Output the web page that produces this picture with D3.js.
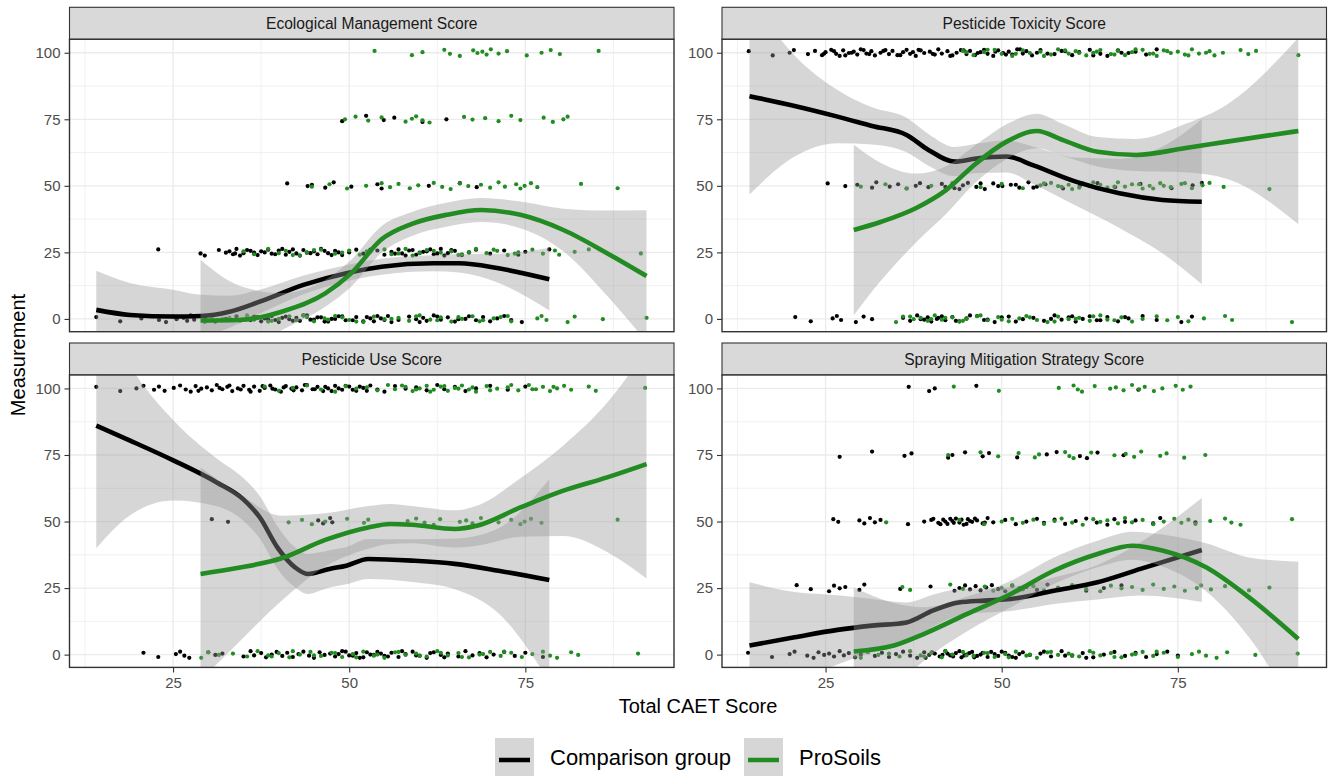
<!DOCTYPE html>
<html><head><meta charset="utf-8">
<script src="https://cdn.jsdelivr.net/npm/d3@7"></script>
<style>body{margin:0;background:#fff} svg{display:block} text{font-family:"Liberation Sans",Arial,sans-serif}</style>
</head><body><svg id="chart" width="1344" height="776"></svg>
<script>
// ---------------- DATA ----------------
const panelTitles = ["Ecological Management Score","Pesticide Toxicity Score","Pesticide Use Score","Spraying Mitigation Strategy Score"];
const groupNames = ["Comparison group","ProSoils"];
const xTicks = [25, 50, 75];
const yTicks = [0, 25, 50, 75, 100];
const levels = [0, 25, 50, 75, 100];

// Ecological Management Score — points (Total CAET score at each measurement level)
const emComp0 = [14.1,17.5,20.5,22,23,24,25,25.5,26.5,27,27.5,28,29.5,31,32.5,34,36,37,37.5,38,39,39.5,40,41,41.5,42.5,43,44,45,46,47,48,49,50.5,51,52,53,54,55,56,58.5,59.5,60.5,61,62,63,64,65,66.5,67,68,69,70,71,72,73,74.5,36.5,38.5,40.5,42,43.5,44.5,45.5,46.5,47.5,48.5,49.5,52.5,53.5,54.5,55.5,57,60,62.5,65.5];
const emComp25 = [22.9,28.9,29.5,31.5,32.5,33,33.5,34,35,36,37,38,38.5,39,40,41,41.5,42,42.5,43,43.5,44,45,45.5,46,47,48,49,50,51,52,54,55,56,57,57.5,58,59,60,61,62,63,64,65,66,67,68,70,72,74,75,78.4,33.8,34.5,35.5,36.5,37.5,39.5,40.5,44.5,46.5,47.5,48.5,53,56.5,58.5,59.5,60.5,61.5,62.5,63.5,64.5];
const emComp50 = [41.2,44.1,44.7,46.6,47.8,50.3,54,54.6,61.3,65.7,68.1];
const emComp75 = [49,52.4,54.9,56.4,60.4,63.8];
const emComp100 = [];
const emPro0 = [29.5,30.5,32,33,34.5,35.5,36.5,37.5,38.5,40,41.5,42.5,44,45,46.5,48,50,52,53.5,55,57,58.5,60,61.5,63,64.5,66,67.5,69,71.5,73,76.7,77.3,78,81,82,86,92.2,39,43.5,47,49,51,56,59.5,62.5,65.5,68.5,70.5,72.5];
const emPro25 = [35,36.5,38.5,40,41,42,44,46,48,50,51.5,53,55,57,59,61,63,64.5,66,68,69.5,71,72.5,74,76,77.5,79.2,79.8,82,84,91.4,43,45,49,52.5,56,58,60,62,65.5,67,70.5,73.5];
const emPro50 = [44.7,47.2,49.7,52.4,54.6,55.8,57,58.6,59.8,62,63.2,64.4,65.7,66.9,68.7,70,71.2,72.1,73.7,74.3,74.9,75.8,76.7,82.9,88.1];
const emPro75 = [49.4,50.9,52.7,54.6,58,58.9,59.5,60.4,61.4,66.3,67.5,69.3,71.2,73,74.3,77.6,78.9,80.4,81];
const emPro100 = [53.6,58.9,60.4,63.5,64.3,65.7,67.6,68.2,68.9,69.5,70.1,71.2,72.4,75.2,77.3,78.6,79.9,85.4];
// smooth fits (x, fitted value, half-width of confidence band)
const emCompX = [14.1,18.9,25.1,28.9,33,37.3,43.5,49.6,54.6,61.9,65.6,71.2,78.4];
const emCompFit = [3.4,1.5,0.9,1.1,2.7,6.5,12.8,17.2,19.6,20.9,20.9,19.0,14.9];
const emCompHw = [14.7,12,10,8,6,4.5,3.5,3,3,3,3.5,5.5,11.7];
const emProX = [28.9,34.3,40.4,46.6,50.3,54.6,58.9,63.8,68.7,74.3,80.4,86.6,92.2];
const emProFit = [-0.6,-0.4,2.7,9.6,17.2,29.9,35.7,39.1,40.9,39.1,33.4,24.7,16.1];
const emProHw = [22.8,13,7,5,5,5,4.5,4.5,4.5,5,8,16,24.7];

// Pesticide Toxicity Score
const toxComp0 = [20.7,22.9,26,26.6,27.2,29.3,30.4,31.6,36,37,38,39,39.5,40,40.8,41.5,42,43,44,45,46.5,47.5,49,51,53,54.5,56,57.5,58.5,59.5,60.5,61.5,62.5,63.5,65,66.5,68,70,72,75.5,77,38.5,41,43.5,45.5,48,50,52,57,60,64,67.5];
const toxComp25 = [];
const toxComp50 = [25.3,27.8,29.5,31.6,32.2,34.1,35.3,36.5,37.8,38.4,39.6,41.5,43.3,44.5,45.2,46.4,47.6,48.8,50.1,51.3,52.5,53.8,55,56.2,58.7,61.1,63.6,66.1,69.7,74.1,77.1,78.4,42,44,47,49.5,52,54.5];
const toxComp75 = [];
const toxComp100 = [14.1,17.5,19.9,20.5,22.5,23.5,24.5,25,25.8,26.5,27,27.5,28.3,29,29.5,30,30.8,31.5,32,32.8,33.5,34,34.5,35.2,36,36.5,37,37.8,38.5,39,39.8,40.5,41,41.5,42.3,43,43.6,44.2,45,45.5,46.2,47,47.5,48,48.8,49.5,50.2,51,51.5,52.2,53,53.5,54.3,55,55.5,57.5,58.5,60,61,62.5,64,65,66.5,68,69,70.5,72,24.8,26.2,27.8,28.7,30.4,31.2,33.2,35.6,37.4,38.2,40.2,42.7,44.6,46.6,49.1,50.6,52.6,56.5,59,63,67];
const toxPro0 = [35,36,37.5,38.5,39.5,40.5,41.5,43,44,45,46.5,48,49.5,51,52.5,53.5,55,56.5,58,59.5,61,62.5,64,65,67,68.5,70,72,73.5,75,76.5,78.7,81.7,82.7,91.2,37,40,42,44.5,47,50,54,57.5,60.5,63,66];
const toxPro25 = [];
const toxPro50 = [30,33.5,36.5,40,43,47,50,53,55.5,57,58.5,60,61.5,62.5,64,65,66.5,67.5,68.5,70,71,72.5,74,75.5,77,78.5,79.5,81.5,88,56,58,59.5,61,63,66,69.5,71.5,73,76];
const toxPro75 = [];
const toxPro100 = [44.5,46,47.5,49,50,51.5,53,54,55.5,57,58,59.5,60.5,62,63,64,65.5,66.5,67.5,68.5,70,71,72,73,74,75,76,77,78,79.5,80.2,81.4,83.9,85,86.1,92.1,45,48,52,56,59,61,63.5,66,69,71.5,73.5,76.5,79];
const toxCompX = [14.2,20.6,26.7,31.6,36.5,39.6,43.3,46.4,50.7,54.4,60.5,66.7,72.8,78.4];
const toxCompFit = [83.7,80.0,76.0,72.5,69.1,63.5,59.1,60.3,61.0,57.8,51.6,47.2,44.7,44.0];
const toxCompHw = [37,19,10,7,6.5,6,5.5,5.5,6,7,9,13,20,31];
const toxProX = [29.0,32.9,37.8,42.1,46.4,50.7,55.0,58.7,63.6,69.1,75.9,82.0,92.1];
const toxProFit = [33.4,36.5,41.6,48.4,58.5,66.6,70.6,67.2,62.8,61.6,64.1,66.6,70.6];
const toxProHw = [32,22,13,9,7,6.5,6.5,6,5.5,6,9,14,35];

// Pesticide Use Score
const useComp0 = [20.8,22.9,25.4,26,26.6,27.3,30,31,32,35,36,36.5,37.5,38.2,39,39.7,40.5,41.2,42,42.8,43.5,44.3,45,45.8,46.5,47.3,48,49,50,51,52,53,54,55,56,57,58,59,60,61,62,63,64,65.5,66.5,67.5,68.5,69.5,70.5,72,73.5,75,77.5,48.5,49.5,50.5,51.5,52.5,53.5,54.5,55.5,57.5,59.5,61.5,63.5];
const useComp25 = [];
const useComp50 = [30.5,32.8,45.6,46.3,47.3,47.6];
const useComp75 = [];
const useComp100 = [14.1,17.5,19.8,20.8,22.3,23,23.8,25.1,26,26.8,27.5,28.2,29,29.8,30.5,31.2,32,32.7,33.4,34.2,35,35.8,36.5,37.3,38,38.8,39.5,40.3,41,41.8,42.5,43.3,44,44.8,45.5,46.3,47,48,49,50,51,52,53,54,55,56.5,58,59.5,61,62.5,63.5,65,66.5,68,70,72.5,75,28.6,31.6,33,34.6,36,37.7,39.1,40.7,42.1,43.7,45.1,46.6,47.5,48.5,49.5,50.5,51.5,52.5];
const usePro0 = [29,30,31.5,33.5,35.5,37,38.5,40,41.5,43,44.5,46,47.5,49,50.5,52,53.5,55,56.5,58,59.5,61,62.5,64,65.5,67,68.5,70,71.5,73,74.5,76,77.5,78.5,79.5,81.5,82.5,91,39,42,45,48,51,54,57,60,63,66,69,72];
const usePro25 = [];
const usePro50 = [41.4,43.3,44.7,46.6,49.7,52.1,52.7,57,58.3,59.5,60.7,62,62.9,65.7,66.6,67.5,68.7,71.2,73,74.3,74.9,75.8,77.3,88.1];
const usePro75 = [];
const usePro100 = [38,40,42,44,46,48,49.5,51,52.5,54,55.5,56.5,58,59,60,61,62,63,64,65,66,67,68,69.5,71,72.5,74,75.5,76.5,77.5,78.5,79.5,80.5,81.5,84,85,92,57.5,59.5,61.5,63.5,65.5,67.5,70,73,76,79];
const useCompX = [14.1,18.9,25.1,31.2,34.9,37.3,39.8,42.3,44.1,47.2,49.6,52.7,58.9,65.0,71.2,78.4];
const useCompFit = [86.0,80.4,72.9,64.7,58.5,51.6,40.3,32.8,30.3,32.2,33.4,35.9,35.3,34.1,31.5,28.0];
const useCompHw = [46,28,15,9,8,8,8,7.5,7.5,7,7,7.5,8,9.5,16,38];
const useProX = [28.9,34.3,40.4,46.6,52.7,55.8,58.9,65.0,68.1,74.3,80.4,86.6,92.2];
const useProFit = [30.3,32.6,36.2,43.1,47.8,49.1,48.8,47.2,48.4,55.3,61.6,66.6,71.6];
const useProHw = [40,28,16,10,8,7.5,7,7,7.5,11,17,28,43];

// Spraying Mitigation Strategy Score
const sprComp0 = [14,17.4,19.9,20.6,22.4,23.3,24,24.8,25.5,26.2,27,27.6,28.3,29.2,30,31,32,33,34,35,36,37,38,39,39.7,40.5,41.2,42,42.7,43.5,44.3,45,45.8,46.5,47.3,48,49,50,51,52,53,54,55.5,57,58.5,60,61.5,63,64.5,66,67.5,69,70.5,72,73.5,75,39.2,40.1,41.6,42.3,43.1,44,44.7,45.4,46.1,47,48.5,49.5,50.5,51.5,52.5,56,59,62];
const sprComp25 = [20.9,22.9,25.5,26.2,27,27.8,29.8,30.5,35.6,39.9,43.3,44,44.8,45.5,46.3,47,47.8,48.6,49.5,50.5,51.5,52.5,53.5,55,56.5,58,60,62,64.5,67];
const sprComp50 = [26.1,26.8,29.8,30.5,31.3,32,32.8,36.7,39,40.3,41,41.7,42.3,43,43.5,44,44.6,45.2,45.8,46.5,47.3,48,48.8,50.5,52,53.5,55,56,57.5,59,60.5,62,63.5,65,66,67.5,69,71.5,72.5,77.5,40,41.3,42,42.7,43.2,44.3,45,45.5,46.2,47.6];
const sprComp75 = [27,31.6,36.2,37.2,42.4,43,44.8,47.3,48.2,52.2,56.4,57.8,61.1,62.1,63.6,67.3];
const sprComp100 = [36.8,39.7,40.5,46.4,69.4];
const sprPro0 = [30,31,32.5,34,35.5,37,38.5,40,41.5,43,44.5,46,47.5,49,50.5,52,53.5,55,56.5,58,59.5,61,62.5,64,65.5,67,68.5,70,71.5,73,75,77,78,79,80.5,82,86,92,39,42,45,48,51,54,57,60,63,66,69,72];
const sprPro25 = [35.9,37,42.7,44.5,47.6,48.8,50,51.5,53,54.5,56,58,60,62,64,65.5,67,68.5,70,71.5,73,74.5,76,77.7,78.3,79.7,81.7,85.1,88];
const sprPro50 = [33.6,44,47.5,50,51.5,53,54.5,56,57.5,58.5,60,61.5,63,64,65,66.5,67.5,68.5,70,71.5,73,74.5,75.5,76.5,77.5,79.6,81.7,82.6,83.9,91.2];
const sprPro75 = [42.4,47,49.5,52.4,54.7,55.3,59,59.6,60.2,62.7,66,67.6,68.8,69.8,72.5,73.4,75.9,78.9];
const sprPro100 = [43.2,49.6,58.1,60.2,60.8,61.4,63.2,65.4,66.2,67.3,68.5,69.5,70.3,71.6,72.8,74.7,75.7,76.8];
const sprCompX = [14.2,20.6,26.7,31.6,36.5,40.2,43.9,47.6,51.3,57.4,63.6,69.7,78.4];
const sprCompFit = [3.4,6.5,9.3,10.9,12.1,16.5,19.6,20.3,20.9,24.0,27.2,32.2,39.3];
const sprCompHw = [23.8,17,13,10,7.5,6,5,4.5,4.5,5,6.5,10,19.5];
const sprProX = [29.0,34.7,39.0,45.1,51.3,57.4,63.6,68.5,72.8,79.0,85.1,92.1];
const sprProFit = [1.2,3.4,7.8,15.3,22.8,31.5,37.8,40.9,39.1,32.8,21.5,5.9];
const sprProHw = [24,16,10,6.5,5,5,5,5.3,6,9,15,29];

// ---------------- ASSEMBLY ----------------
const panels = [
  {title: panelTitles[0],
   pts: [[emComp0,emComp25,emComp50,emComp75,emComp100],[emPro0,emPro25,emPro50,emPro75,emPro100]],
   fits: [[emCompX,emCompFit,emCompHw],[emProX,emProFit,emProHw]]},
  {title: panelTitles[1],
   pts: [[toxComp0,toxComp25,toxComp50,toxComp75,toxComp100],[toxPro0,toxPro25,toxPro50,toxPro75,toxPro100]],
   fits: [[toxCompX,toxCompFit,toxCompHw],[toxProX,toxProFit,toxProHw]]},
  {title: panelTitles[2],
   pts: [[useComp0,useComp25,useComp50,useComp75,useComp100],[usePro0,usePro25,usePro50,usePro75,usePro100]],
   fits: [[useCompX,useCompFit,useCompHw],[useProX,useProFit,useProHw]]},
  {title: panelTitles[3],
   pts: [[sprComp0,sprComp25,sprComp50,sprComp75,sprComp100],[sprPro0,sprPro25,sprPro50,sprPro75,sprPro100]],
   fits: [[sprCompX,sprCompFit,sprCompHw],[sprProX,sprProFit,sprProHw]]}
];

// ---------------- STYLE / LAYOUT ----------------
const colors = ["#000000", "#228B22"];
const jitterY = [0.7,-0.9,0.2,1.1,-0.4,-1.2,0.9,-0.1,0.4,-0.7,1.3,-0.3,0.6,-1.0,0.0,1.0,-0.5];
const panelW = 604.5, panelH = 292.4, stripH = 32;
const layout = [{x:69.5,y:39.3},{x:722,y:39.3},{x:69.5,y:375},{x:722,y:375}];

const svg = d3.select("#chart");
svg.append("rect").attr("width",1344).attr("height",776).attr("fill","#fff");

const x = d3.scaleLinear().domain([10.3, 96.1]).range([0, panelW]);
const y = d3.scaleLinear().domain([-4.8, 105.05]).range([panelH, 0]);

panels.forEach((p, i) => {
  const L = layout[i];
  const g = svg.append("g").attr("transform", `translate(${L.x},${L.y})`);
  // strip
  g.append("rect").attr("x",0).attr("y",-stripH).attr("width",panelW).attr("height",stripH)
    .attr("fill","#D9D9D9").attr("stroke","#333333").attr("stroke-width",1.1);
  g.append("text").attr("x",panelW/2).attr("y",-stripH/2+5.5).attr("text-anchor","middle")
    .attr("font-size",15.6).attr("fill","#1A1A1A").text(p.title);
  // background
  g.append("rect").attr("width",panelW).attr("height",panelH).attr("fill","#fff");
  const cid = "clip"+i;
  g.append("clipPath").attr("id",cid).append("rect").attr("width",panelW).attr("height",panelH);
  const pg = g.append("g").attr("clip-path",`url(#${cid})`);
  // grid
  const minorX = [12.5,37.5,62.5,87.5], minorY = [12.5,37.5,62.5,87.5];
  pg.selectAll(".mx").data(minorX).enter().append("line")
    .attr("x1",d=>x(d)).attr("x2",d=>x(d)).attr("y1",0).attr("y2",panelH)
    .attr("stroke","#EBEBEB").attr("stroke-width",0.7);
  pg.selectAll(".my").data(minorY).enter().append("line")
    .attr("y1",d=>y(d)).attr("y2",d=>y(d)).attr("x1",0).attr("x2",panelW)
    .attr("stroke","#EBEBEB").attr("stroke-width",0.7);
  pg.selectAll(".gx").data(xTicks).enter().append("line")
    .attr("x1",d=>x(d)).attr("x2",d=>x(d)).attr("y1",0).attr("y2",panelH)
    .attr("stroke","#EBEBEB").attr("stroke-width",1.3);
  pg.selectAll(".gy").data(yTicks).enter().append("line")
    .attr("y1",d=>y(d)).attr("y2",d=>y(d)).attr("x1",0).attr("x2",panelW)
    .attr("stroke","#EBEBEB").attr("stroke-width",1.3);
  // points
  p.pts.forEach((grp, gi) => {
    const pts = [];
    grp.forEach((xs, li) => xs.forEach((v, k) => pts.push({x:v, y:levels[li], j:jitterY[(k+li*3+gi*5)%jitterY.length]})));
    pg.append("g").selectAll("circle").data(pts).enter().append("circle")
      .attr("cx",d=>x(d.x)).attr("cy",d=>y(d.y + d.j)).attr("r",2.1)
      .attr("fill",colors[gi]);
  });
  // smooths: ribbon + line per group
  p.fits.forEach((f, gi) => {
    const [xs, fit, hw] = f;
    const rows = xs.map((v, k) => ({x:v, f:fit[k], lo:fit[k]-hw[k], hi:fit[k]+hw[k]}));
    pg.append("path").datum(rows)
      .attr("d", d3.area().curve(d3.curveMonotoneX).x(d=>x(d.x)).y0(d=>y(d.lo)).y1(d=>y(d.hi)))
      .attr("fill","#999999").attr("fill-opacity",0.4);
    pg.append("path").datum(rows)
      .attr("d", d3.line().curve(d3.curveMonotoneX).x(d=>x(d.x)).y(d=>y(d.f)))
      .attr("fill","none").attr("stroke",colors[gi]).attr("stroke-width",4.6)
      .attr("stroke-linecap","butt");
  });
  // border
  g.append("rect").attr("width",panelW).attr("height",panelH).attr("fill","none")
    .attr("stroke","#333333").attr("stroke-width",1.4);
  // y axis
  const ya = g.append("g").call(d3.axisLeft(y).tickValues(yTicks).tickSize(5).tickPadding(4));
  ya.select(".domain").remove();
  ya.selectAll(".tick line").attr("stroke","#333333").attr("stroke-width",1.1);
  ya.selectAll(".tick text").attr("font-size",15).attr("fill","#4D4D4D").attr("font-family","Liberation Sans, Arial, sans-serif");
  // x axis on bottom row
  if (i >= 2) {
    const xa = g.append("g").attr("transform",`translate(0,${panelH})`)
      .call(d3.axisBottom(x).tickValues(xTicks).tickSize(5).tickPadding(5));
    xa.select(".domain").remove();
    xa.selectAll(".tick line").attr("stroke","#333333").attr("stroke-width",1.1);
    xa.selectAll(".tick text").attr("font-size",15).attr("fill","#4D4D4D").attr("font-family","Liberation Sans, Arial, sans-serif");
  }
});

// axis titles
svg.append("text").attr("x",698).attr("y",713).attr("text-anchor","middle")
  .attr("font-size",20).attr("fill","#000").text("Total CAET Score");
svg.append("text").attr("transform","translate(25,355) rotate(-90)").attr("text-anchor","middle")
  .attr("font-size",20).attr("fill","#000").text("Measurement");

// legend
const legX = [495, 744];
groupNames.forEach((nm, gi) => {
  const lg = svg.append("g").attr("transform",`translate(${legX[gi]},738)`);
  lg.append("rect").attr("width",39).attr("height",44).attr("fill","#D6D6D6");
  lg.append("line").attr("x1",4).attr("x2",35).attr("y1",22).attr("y2",22)
    .attr("stroke",colors[gi]).attr("stroke-width",4.5);
  lg.append("text").attr("x",55).attr("y",27).attr("font-size",22).attr("fill","#000").text(nm);
});
</script></body></html>
